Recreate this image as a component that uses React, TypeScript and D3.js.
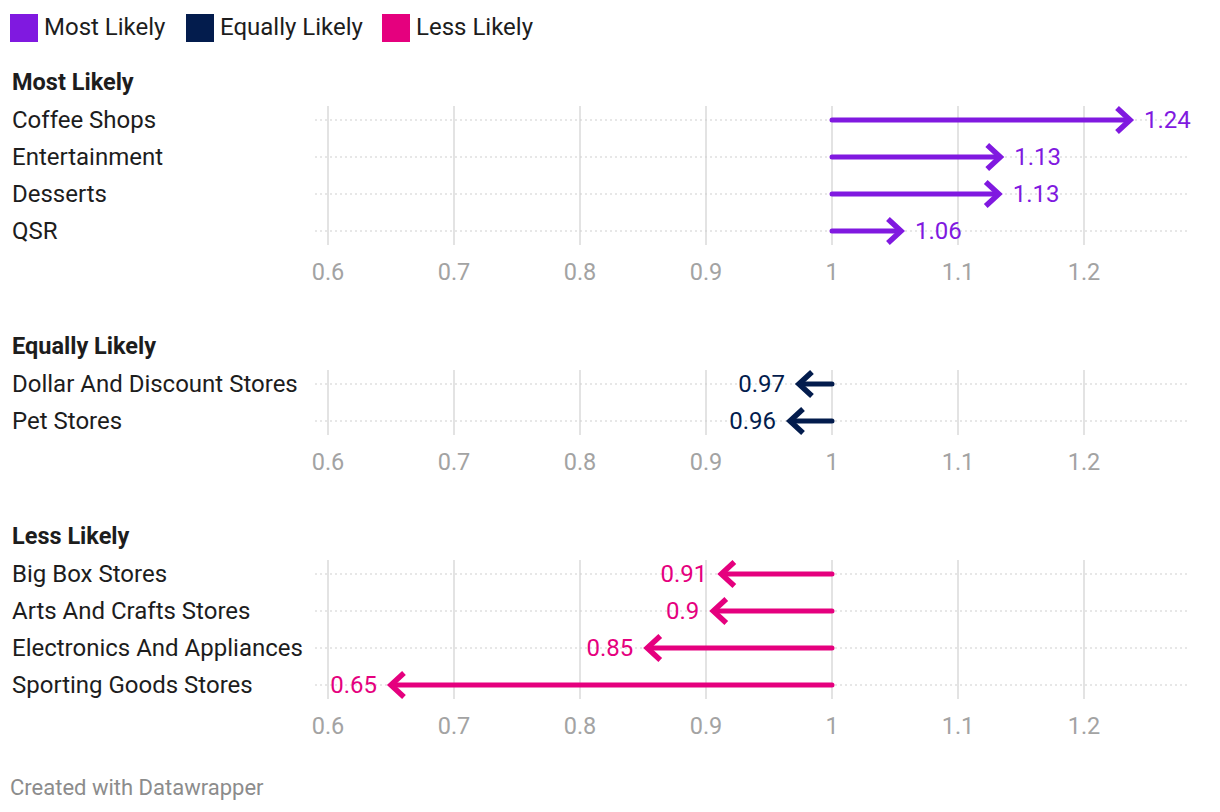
import React from "react";
import * as d3 from "d3";

const legendLabels = ["Most Likely", "Equally Likely", "Less Likely"];
const colors = ["#8019e0", "#031c4d", "#e5007e"];

const group1Cats = ["Coffee Shops", "Entertainment", "Desserts", "QSR"];
const group1Vals = [1.2397, 1.1367, 1.1355, 1.0579];
const group1Labels = ["1.24", "1.13", "1.13", "1.06"];
const group2Cats = ["Dollar And Discount Stores", "Pet Stores"];
const group2Vals = [0.9706, 0.9635];
const group2Labels = ["0.97", "0.96"];
const group3Cats = ["Big Box Stores", "Arts And Crafts Stores", "Electronics And Appliances", "Sporting Goods Stores"];
const group3Vals = [0.909, 0.9026, 0.8502, 0.6468];
const group3Labels = ["0.91", "0.9", "0.85", "0.65"];

const tickValues = [0.6, 0.7, 0.8, 0.9, 1, 1.1, 1.2];
const baseline = 1;

const FONT = "Roboto, 'Noto Sans', sans-serif";

const x = d3.scaleLinear().domain([0.6, 1.2]).range([328, 1084]);

type Panel = { title: string; cats: string[]; vals: number[]; labels: string[]; color: string; top: number };

const rowStep = 37;

const panels: Panel[] = [
  { title: legendLabels[0], cats: group1Cats, vals: group1Vals, labels: group1Labels, color: colors[0], top: 82 },
  { title: legendLabels[1], cats: group2Cats, vals: group2Vals, labels: group2Labels, color: colors[1], top: 346 },
  { title: legendLabels[2], cats: group3Cats, vals: group3Vals, labels: group3Labels, color: colors[2], top: 536 },
];

const legendX = [10, 186, 382];

function PanelView({ p }: { p: Panel }) {
  const y = (i: number) => p.top + 38 + i * rowStep;
  const firstY = y(0);
  const lastY = y(p.cats.length - 1);
  const gridTop = firstY - 14;
  const gridBottom = lastY + 14;
  const tickY = lastY + 41;
  const fmt = (v: number) => d3.format("")(v);
  return (
    <g>
      <text x={12} y={p.top} dy="0.35em" fontFamily={FONT} fontWeight={700} fontSize={23.5} fill="#1d1d1d">
        {p.title}
      </text>
      {tickValues.map((t) => (
        <line key={"g" + t} x1={x(t)} x2={x(t)} y1={gridTop} y2={gridBottom} stroke="#e3e3e3" strokeWidth={2} />
      ))}
      {p.cats.map((c, i) => (
        <line key={"h" + c} x1={315} x2={1188} y1={y(i)} y2={y(i)} stroke="#cfcfcf" strokeWidth={1} strokeDasharray="2,3" />
      ))}
      {tickValues.map((t) => (
        <text key={"t" + t} x={x(t)} y={tickY} dy="0.35em" textAnchor="middle" fontFamily={FONT} fontSize={23.5} fill="#a3a3a3">
          {fmt(t)}
        </text>
      ))}
      {p.cats.map((c, i) => {
        const v = p.vals[i];
        const yy = y(i);
        const x0 = x(baseline);
        const x1 = x(v);
        const dir = v >= baseline ? 1 : -1;
        const vx = x1 - dir * 4;
        const head = `M${vx - dir * 13},${yy - 12} L${vx},${yy} L${vx - dir * 13},${yy + 12}`;
        return (
          <g key={c}>
            <text x={12} y={yy} dy="0.35em" fontFamily={FONT} fontSize={24} fill="#1d1d1d">
              {c}
            </text>
            <line x1={x0} x2={vx - dir * 2} y1={yy} y2={yy} stroke={p.color} strokeWidth={5} strokeLinecap="round" />
            <path d={head} fill="none" stroke={p.color} strokeWidth={5.5} strokeLinecap="butt" strokeLinejoin="miter" />
            <text
              x={x1 + dir * 10}
              y={yy}
              dy="0.35em"
              textAnchor={dir > 0 ? "start" : "end"}
              fontFamily={FONT}
              fontSize={24}
              fill={p.color}
            >
              {p.labels[i]}
            </text>
          </g>
        );
      })}
    </g>
  );
}

export default function App() {
  return (
    <svg
      width={1220}
      height={812}
      style={{ position: "absolute", left: 0, top: 0, background: "#fff" }}
    >
      {legendLabels.map((l, i) => (
        <g key={l}>
          <rect x={legendX[i]} y={14} width={28} height={28} fill={colors[i]} />
          <text x={legendX[i] + 34} y={27} dy="0.35em" fontFamily={FONT} fontSize={24} fill="#1d1d1d">
            {l}
          </text>
        </g>
      ))}
      {panels.map((p) => (
        <PanelView key={p.title} p={p} />
      ))}
      <text x={10} y={787} dy="0.35em" fontFamily={FONT} fontSize={22} fill="#8c8c8c">
        Created with Datawrapper
      </text>
    </svg>
  );
}
